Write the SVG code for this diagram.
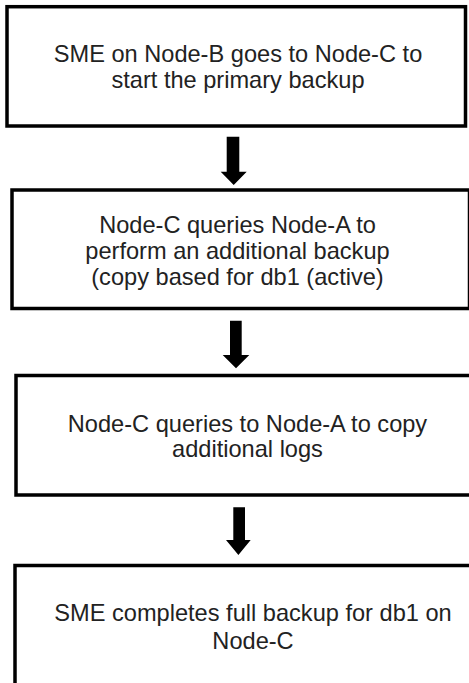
<svg xmlns="http://www.w3.org/2000/svg" width="469" height="683" viewBox="0 0 469 683">
<style>
.box{fill:#fff;stroke:#000;stroke-width:3.5}
.t{font-family:"Liberation Sans",Arial,sans-serif;font-size:23.6px;fill:#222;text-anchor:middle}
.arr{fill:#000}
</style>
<rect width="469" height="683" fill="#fff"/>
<g id="node1">
<rect class="box" x="7" y="6.7" width="458.5" height="119.3"/>
<text class="t" x="238" y="61.7">SME on Node-B goes to Node-C to</text>
<text class="t" x="238" y="88.3">start the primary backup</text>
</g>
<g id="node2">
<rect class="box" x="12" y="190" width="457.5" height="118.5"/>
<text class="t" x="237.5" y="233.3">Node-C queries Node-A to</text>
<text class="t" x="237.5" y="259.3">perform an additional backup</text>
<text class="t" x="237.5" y="285.3">(copy based for db1 (active)</text>
</g>
<g id="node3">
<rect class="box" x="16" y="375.5" width="470" height="119.5"/>
<text class="t" x="247.5" y="431.7">Node-C queries to Node-A to copy</text>
<text class="t" x="247.5" y="457">additional logs</text>
</g>
<g id="node4">
<rect class="box" x="15" y="565.5" width="470" height="140"/>
<text class="t" x="253" y="620.7">SME completes full backup for db1 on</text>
<text class="t" x="253" y="649.3">Node-C</text>
</g>
<g id="connectors">
<polygon class="arr" points="226.7,136.7 239.3,136.7 239.3,171.7 246.7,171.7 233.7,185 220.7,171.7 226.7,171.7"/>
<polygon class="arr" points="230,320.7 241.7,320.7 241.7,355 249.3,355 236,368.3 222.7,355 230,355"/>
<polygon class="arr" points="233.3,507.3 245,507.3 245,540 250.7,540 238.4,555 226,540 233.3,540"/>
</g>
</svg>
